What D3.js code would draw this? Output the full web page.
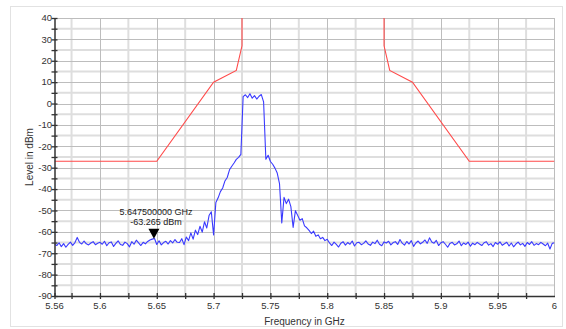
<!DOCTYPE html>
<html><head><meta charset="utf-8">
<script src="https://cdn.jsdelivr.net/npm/d3@7"></script>
<style>body{margin:0;background:#fff}svg{display:block}text{font-family:"Liberation Sans",Arial,sans-serif}</style>
</head><body><svg id="c" width="566" height="329"></svg>
<script>
// ---- data ----
const freqStart = 5.56, freqStep = 0.002; // GHz, trace sample grid
const traceLevels = [
-65.8,-66.4,-65.1,-66.9,-65.5,-67.2,-65.9,-64.8,-66.3,-65.0,
-62.6,-64.9,-65.7,-64.3,-65.6,-66.1,-65.2,-64.6,-66.0,-65.3,
-64.9,-65.8,-64.4,-66.5,-65.1,-64.7,-66.8,-65.4,-64.2,-65.9,
-66.3,-64.8,-65.5,-67.0,-64.6,-65.8,-63.9,-65.2,-66.4,-64.9,
-65.6,-64.5,-63.8,-63.4,-63.1,-65.9,-64.2,-66.1,-65.0,-64.4,
-65.7,-64.1,-65.2,-63.6,-64.9,
-65.0,-63.2,-66.0,-62.4,-64.1,-60.5,-63.4,-59.2,-61.3,-57.4,
-60.1,-55.3,-58.2,-52.4,-50.6,-61.5,-46.3,-44.1,-41.2,-39.5,
-36.2,-34.6,-31.0,-29.3,-27.8,-26.1,-25.2,-23.8,3.2,4.1,
2.8,4.6,2.5,3.7,2.1,3.4,4.2,0.8,-26.0,-24.2,
-27.1,-28.4,-30.2,-32.5,-37.4,-55.8,-43.9,-46.8,-44.7,-48.2,
-57.9,-50.1,-52.3,-54.6,-53.8,-57.2,-58.1,-59.3,-60.8,-59.7,
-62.1,-61.4,-63.2,-62.6,-64.1,-63.5,
-65.2,-66.4,-64.8,-65.9,-67.1,-65.3,-64.6,-66.2,-65.0,-65.8,
-64.3,-66.6,-65.1,-64.9,-66.0,-65.4,-64.2,-65.7,-66.3,-64.8,
-65.5,-63.9,-65.8,-66.5,-64.7,-65.2,-64.4,-66.1,-65.0,-64.6,
-65.9,-63.6,-65.3,-66.2,-64.5,-65.7,-64.1,-66.8,-65.2,-64.3,
-65.6,-64.9,-63.8,-65.4,-62.8,-64.7,-65.3,-64.0,-66.4,-65.1,
-64.6,-65.8,-67.2,-65.4,-64.9,-66.1,-65.6,-64.3,-66.5,-65.2,
-65.9,-64.8,-66.7,-65.3,-66.0,-64.9,-65.7,-66.4,-65.1,-64.6,
-66.2,-65.5,-66.9,-65.0,-65.8,-64.7,-66.3,-65.6,-64.9,-66.6,
-65.2,-67.0,-65.7,-64.8,-66.1,-65.4,-66.8,-65.0,-65.9,-64.6,
-66.3,-65.5,-66.0,-64.9,-65.7,-66.5,-65.3,-68.0,-65.4,-65.1
];
const maskFreq  = [5.56, 5.65, 5.70, 5.72, 5.725, 5.725, 5.85, 5.85, 5.855, 5.875, 5.925, 6.0];
const maskLevel = [-27, -27, 10, 15.5, 27, 60, 60, 27, 15.5, 10, -27, -27];
const markerFreq = 5.6475, markerLevel = -63.265;
const markerLabels = ["5.647500000 GHz", "-63.265 dBm"];
const xTickLabels = ["5.56","5.6","5.65","5.7","5.75","5.8","5.85","5.9","5.95","6"];
const yTickValues = [40,30,20,10,0,-10,-20,-30,-40,-50,-60,-70,-80,-90];
const xTitle = "Frequency in GHz", yTitle = "Level in dBm";

// ---- drawing ----
const svg = d3.select("#c");
const x = d3.scaleLinear().domain([5.56, 6.0]).range([54.5, 554.5]);
const y = d3.scaleLinear().domain([-90, 40]).range([296, 18]);

svg.append("rect").attr("x",10.5).attr("y",6.5).attr("width",552).attr("height",320)
  .attr("fill","#fff").attr("stroke","#e2e2e2");

const minorX = d3.range(0, 18).map(i => 5.575 + i*0.05).filter(v => v < 6);
const majorX = d3.range(1, 9).map(i => 5.55 + i*0.05);
const minorY = d3.range(-85, 40, 10);
const majorY = d3.range(-80, 41, 10);
const g = svg.append("g");
g.selectAll(".mx").data(minorX).join("line").attr("x1",d=>x(d)).attr("x2",d=>x(d))
  .attr("y1",y(40)).attr("y2",y(-90)).attr("stroke","#dedede").attr("stroke-width",2);
g.selectAll(".my").data(minorY).join("line").attr("y1",d=>y(d)).attr("y2",d=>y(d))
  .attr("x1",x(5.56)).attr("x2",x(6)).attr("stroke","#dedede").attr("stroke-width",2);
g.selectAll(".Mx").data(majorX).join("line").attr("x1",d=>Math.round(x(d))+0.5).attr("x2",d=>Math.round(x(d))+0.5)
  .attr("y1",y(40)).attr("y2",y(-90)).attr("stroke","#bdbdbd").attr("stroke-width",1);
g.selectAll(".My").data(majorY).join("line").attr("y1",d=>Math.round(y(d))+0.5).attr("y2",d=>Math.round(y(d))+0.5)
  .attr("x1",x(5.56)).attr("x2",x(6)).attr("stroke","#bdbdbd").attr("stroke-width",1);
// right edge
g.append("line").attr("x1",x(6)).attr("x2",x(6)).attr("y1",y(40)).attr("y2",y(-90)).attr("stroke","#bdbdbd");

svg.append("clipPath").attr("id","pc").append("rect")
  .attr("x",x(5.56)).attr("y",y(40)).attr("width",x(6)-x(5.56)).attr("height",y(-90)-y(40));

const mask = maskFreq.map((f,i)=>[f, maskLevel[i]]);
svg.append("path").attr("clip-path","url(#pc)").datum(mask)
  .attr("d", d3.line().x(d=>x(d[0])).y(d=>y(d[1])))
  .attr("fill","none").attr("stroke","#ff4a4a").attr("stroke-width",1.1);

const trace = traceLevels.map((v,i)=>[freqStart + i*freqStep, v]);
svg.append("path").attr("clip-path","url(#pc)").datum(trace)
  .attr("d", d3.line().x(d=>x(d[0])).y(d=>y(d[1])))
  .attr("fill","none").attr("stroke","#3a3aff").attr("stroke-width",1.1).attr("stroke-linejoin","round");

// axes
const xAxis = d3.axisBottom(x).tickValues(d3.range(0,18).map(i=>5.56 + (i===0?0:0.015 + (i-1)*0.025)).filter(v=>v<=6.0001))
  .tickSizeInner(3).tickSizeOuter(0).tickFormat("");
const xa = svg.append("g").attr("transform",`translate(0,${y(-90)})`).call(xAxis);
xa.select(".domain").attr("stroke","#333").attr("stroke-width",1.5);
xa.selectAll(".tick line").attr("stroke","#333").attr("y1",-3).attr("stroke-width",1.3);
svg.append("g").selectAll("text").data(xTickLabels).join("text")
  .attr("x",d=>x(+d)).attr("y",309).attr("text-anchor","middle")
  .attr("font-size",9.5).attr("fill","#333").text(d=>d);

const yAxis = d3.axisLeft(y).tickValues(d3.range(-90,41,5)).tickSizeInner(3).tickSizeOuter(0).tickFormat("");
const ya = svg.append("g").attr("transform",`translate(${x(5.56)},0)`).call(yAxis);
ya.select(".domain").attr("stroke","#333").attr("stroke-width",1.5);
ya.selectAll(".tick line").attr("stroke","#333").attr("x1",3).attr("stroke-width",1.3);
svg.append("g").selectAll("text").data(yTickValues).join("text")
  .attr("x",52).attr("y",d=>y(d)+3.3).attr("text-anchor","end")
  .attr("font-size",9.5).attr("fill","#333").text(d=>d);

svg.append("text").attr("x",x(5.78)).attr("y",324.5).attr("text-anchor","middle")
  .attr("font-size",10).attr("fill","#333").text(xTitle);
svg.append("text").attr("transform",`translate(33,157) rotate(-90)`).attr("text-anchor","middle")
  .attr("font-size",10).attr("fill","#333").text(yTitle);

// marker
const mx = x(markerFreq), my = y(markerLevel);
svg.append("path").attr("d",`M${mx},${my} L${mx-5.5},${my-10} L${mx+5.5},${my-10} Z`).attr("fill","#000");
svg.append("g").selectAll("text").data(markerLabels).join("text")
  .attr("x",mx+2).attr("y",(d,i)=>215+i*10).attr("text-anchor","middle")
  .attr("font-size",9).attr("fill","#222").text(d=>d);
</script></body></html>
